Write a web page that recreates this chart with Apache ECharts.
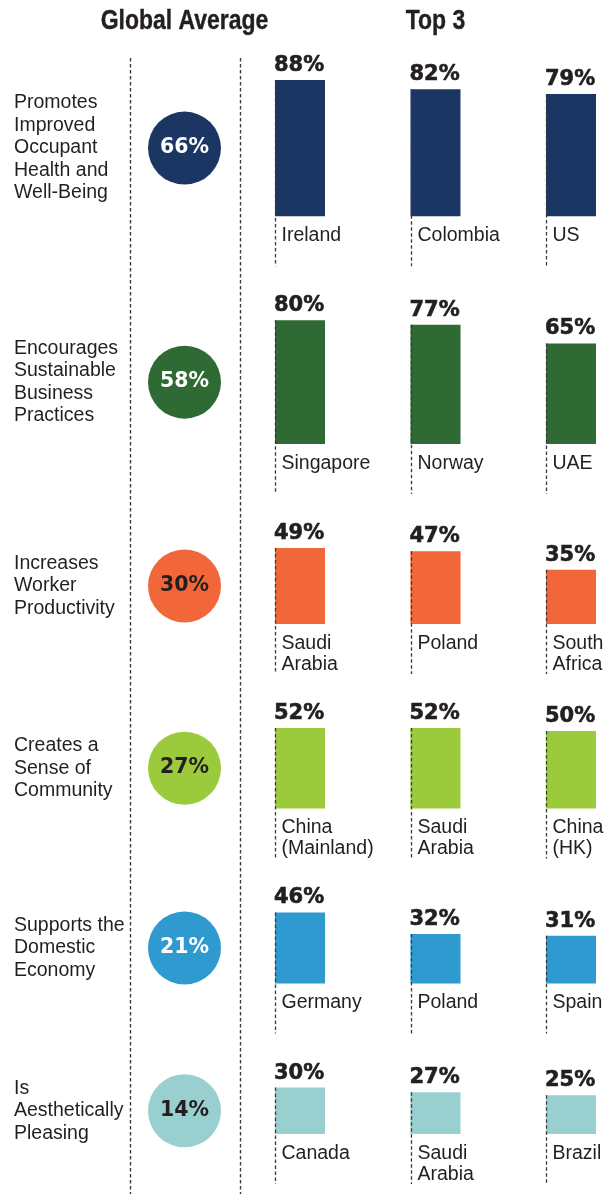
<!DOCTYPE html>
<html>
<head>
<meta charset="utf-8">
<script src="https://cdn.jsdelivr.net/npm/echarts@6/dist/echarts.min.js"></script>
<style>
html,body{margin:0;padding:0;background:#ffffff;}
#chart{width:613px;height:1194px;}
</style>
</head>
<body>
<div id="chart"></div>
<script>
// ---------- DATA ----------
const headers = ['Global Average', 'Top 3'];
const rowLabels = [
  'Promotes\nImproved\nOccupant\nHealth and\nWell-Being',
  'Encourages\nSustainable\nBusiness\nPractices',
  'Increases\nWorker\nProductivity',
  'Creates a\nSense of\nCommunity',
  'Supports the\nDomestic\nEconomy',
  'Is\nAesthetically\nPleasing'
];
const globalAverage = [66, 58, 30, 27, 21, 14];
const topCountries = [
  ['Ireland', 'Colombia', 'US'],
  ['Singapore', 'Norway', 'UAE'],
  ['Saudi\nArabia', 'Poland', 'South\nAfrica'],
  ['China\n(Mainland)', 'Saudi\nArabia', 'China\n(HK)'],
  ['Germany', 'Poland', 'Spain'],
  ['Canada', 'Saudi\nArabia', 'Brazil']
];
const topValues = [
  [88, 82, 79],
  [80, 77, 65],
  [49, 47, 35],
  [52, 52, 50],
  [46, 32, 31],
  [30, 27, 25]
];

// ---------- STYLE / LAYOUT ----------
const rowColors = ['#1c3664', '#2f6934', '#f26739', '#9bca3c', '#2e9ad0', '#99cfcf'];
const circleTextColors = ['#ffffff', '#ffffff', '#231f20', '#231f20', '#ffffff', '#231f20'];
const TEXT = '#231f20';
const DASH = '#3a3a3a';
const SCALE = 1.548;      // px per percentage point
const GAP = 104;          // from a row's baseline to next row's tallest bar top
const FIRST_TOP = 80;
const BAR_W = 50;
const BAR_FIRST_CX = 300, BAR_LAST_CX = 571;
const CIRCLE = 73, CIRCLE_CX = 184.5;
const LABEL_X = 14;
const bodyFont = "'Liberation Sans', Arial, sans-serif";
const numFont = "'DejaVu Sans', sans-serif";

const chart = echarts.init(document.getElementById('chart'), null, {renderer: 'canvas'});

const grids = [], xAxes = [], yAxes = [], seriesList = [];
let rowTop = FIRST_TOP;
rowLabels.forEach((lab, i) => {
  const max = Math.max.apply(null, topValues[i]);
  const baseline = rowTop + max * SCALE;
  rowTop = baseline + GAP;

  // bars grid
  const gb = grids.length;
  grids.push({left: BAR_FIRST_CX, width: BAR_LAST_CX - BAR_FIRST_CX, top: baseline - 100 * SCALE, height: 100 * SCALE});
  xAxes.push({type: 'category', gridIndex: gb, data: topCountries[i], boundaryGap: false, show: false});
  yAxes.push({type: 'value', gridIndex: gb, min: 0, max: 100, show: false});
  seriesList.push({
    type: 'bar', xAxisIndex: gb, yAxisIndex: gb, barWidth: BAR_W, clip: false,
    data: topValues[i], itemStyle: {color: rowColors[i]}, z: 2,
    label: {
      show: true, position: [-1, -4], align: 'left', verticalAlign: 'bottom',
      formatter: p => p.value + '%',
      fontFamily: numFont, fontWeight: 'bold', fontSize: 21, color: TEXT, lineHeight: 21,
      textBorderColor: TEXT, textBorderWidth: 0.6
    }
  });
  const names = topCountries[i];
  seriesList.push({
    type: 'custom', xAxisIndex: gb, yAxisIndex: gb, z: 3, clip: false,
    data: topValues[i].map((v, k) => [k, v]),
    renderItem: function (params, api) {
      const idx = api.value(0);
      const base = api.coord([idx, 0]);
      const tp = api.coord([idx, api.value(1)]);
      const x = Math.round(base[0] - BAR_W / 2) + 0.5;
      return {
        type: 'group',
        children: [
          {type: 'line', shape: {x1: x, y1: tp[1], x2: x, y2: base[1] + 50},
           style: {stroke: DASH, lineWidth: 1.3, lineDash: [3.5, 2.5]}},
          {type: 'text', x: x + 6, y: base[1] + 9,
           style: {text: names[idx], fill: TEXT, fontFamily: bodyFont, fontSize: 19.5,
                   lineHeight: 21, align: 'left', verticalAlign: 'top'}}
        ]
      };
    }
  });

  // circle grid (global average)
  const gc = grids.length;
  grids.push({left: CIRCLE_CX - CIRCLE / 2, width: CIRCLE, top: baseline - max * SCALE, height: max * SCALE});
  xAxes.push({type: 'category', gridIndex: gc, data: [headers[0]], show: false});
  yAxes.push({
    type: 'category', gridIndex: gc, data: [lab],
    axisLine: {show: false}, axisTick: {show: false}, splitLine: {show: false},
    axisLabel: {
      show: true, align: 'left', margin: CIRCLE_CX - CIRCLE / 2 - LABEL_X,
      fontFamily: bodyFont, fontSize: 19.5, lineHeight: 22.5, color: TEXT
    }
  });
  seriesList.push({
    type: 'scatter', xAxisIndex: gc, yAxisIndex: gc,
    data: [[0, 0]], symbol: 'circle', symbolSize: CIRCLE,
    itemStyle: {color: rowColors[i], opacity: 1},
    label: {
      show: true, position: 'inside', formatter: () => globalAverage[i] + '%',
      fontFamily: numFont, fontWeight: 'bold', fontSize: 20.5, color: circleTextColors[i]
    },
    silent: true
  });
});

const headStyle = {fill: TEXT, fontFamily: "'Liberation Sans', Arial, sans-serif",
  fontWeight: 'bold', fontSize: 28, align: 'center', verticalAlign: 'top',
  stroke: TEXT, lineWidth: 0.4};

chart.setOption({
  animation: false,
  backgroundColor: '#ffffff',
  grid: grids, xAxis: xAxes, yAxis: yAxes, series: seriesList,
  graphic: [
    {type: 'text', x: CIRCLE_CX, y: 7, scaleX: 0.82, silent: true,
     style: Object.assign({text: headers[0]}, headStyle)},
    {type: 'text', x: (BAR_FIRST_CX + BAR_LAST_CX) / 2, y: 7, scaleX: 0.82, silent: true,
     style: Object.assign({text: headers[1]}, headStyle)},
    {type: 'line', shape: {x1: 130.5, y1: 58, x2: 130.5, y2: 1194},
     style: {stroke: DASH, lineWidth: 1.4, lineDash: [3.5, 2.5]}, silent: true},
    {type: 'line', shape: {x1: 240.5, y1: 58, x2: 240.5, y2: 1194},
     style: {stroke: DASH, lineWidth: 1.4, lineDash: [3.5, 2.5]}, silent: true}
  ]
});
</script>
</body>
</html>
